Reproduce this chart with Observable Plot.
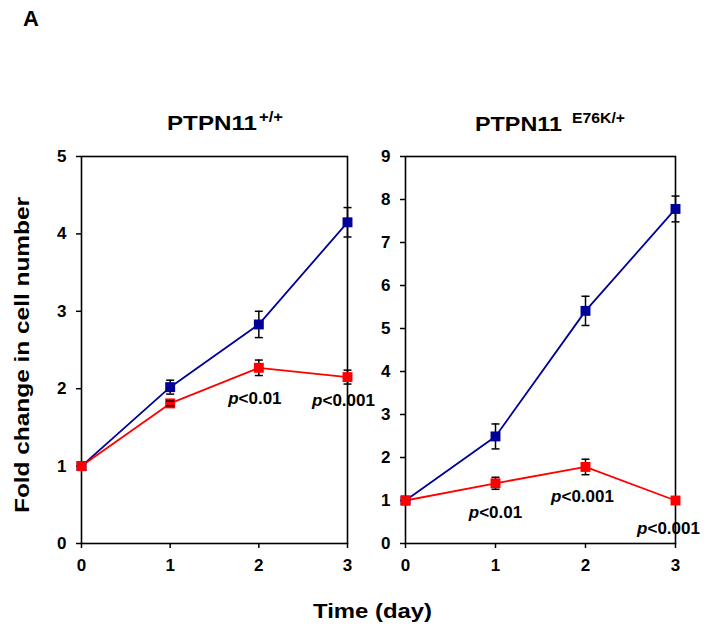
<!DOCTYPE html>
<html>
<head>
<meta charset="utf-8">
<script src="https://cdn.jsdelivr.net/npm/d3@7"></script>
<script src="https://cdn.jsdelivr.net/npm/@observablehq/plot@0.6"></script>
<style>
  html, body { margin: 0; padding: 0; background: #fff; }
  #wrap { position: relative; width: 709px; height: 633px; overflow: hidden; font-family: "Liberation Sans", Arial, sans-serif; }
  #wrap svg { position: absolute; top: 0; }
</style>
</head>
<body>
<div id="wrap"></div>
<script>
// ---- data ----
const days = [0, 1, 2, 3];
const xTicks = [0, 1, 2, 3];

const wtControl = [1, 2.02, 2.83, 4.15];
const wtControlErr = [0, 0.09, 0.17, 0.19];
const wtTreated = [1, 1.81, 2.27, 2.15];
const wtTreatedErr = [0, 0.03, 0.10, 0.09];
const wtYTicks = [0, 1, 2, 3, 4, 5];

const mutControl = [1, 2.49, 5.41, 7.78];
const mutControlErr = [0, 0.29, 0.34, 0.30];
const mutTreated = [1, 1.40, 1.78, 1.00];
const mutTreatedErr = [0, 0.14, 0.18, 0];
const mutYTicks = [0, 1, 2, 3, 4, 5, 6, 7, 8, 9];

const wtLabels = [
  {day: 2, value: 2.27, label: "p<0.01", dx: -4, dy: 36},
  {day: 3, value: 2.15, label: "p<0.001", dx: -4, dy: 29}
];
const mutLabels = [
  {day: 1, value: 1.40, label: "p<0.01", dx: 0, dy: 35},
  {day: 2, value: 1.78, label: "p<0.001", dx: -3, dy: 35},
  {day: 3, value: 1.00, label: "p<0.001", dx: -7, dy: 33}
];

const BLUE = "#000099", RED = "#ff0000";
const FONT = "'Liberation Sans', Arial, sans-serif";

function rows(values, errs, series) {
  return days.map((d, i) => ({day: d, value: values[i], err: errs[i], series}));
}

const capSymbol = {
  draw(context, size) {
    const w = Math.sqrt(size / Math.PI);
    context.moveTo(-w, 0);
    context.lineTo(w, 0);
  }
};

function panel({control, controlErr, treated, treatedErr, yMax, yTicks, labels, width, marginLeft, marginRight}) {
  const data = [...rows(control, controlErr, "control"), ...rows(treated, treatedErr, "treated")];
  const withErr = data.filter(d => d.err > 0);
  const color = s => s === "control" ? BLUE : RED;
  const svg = Plot.plot({
    width, height: 633,
    marginLeft, marginRight, marginTop: 156, marginBottom: 90,
    style: {fontFamily: FONT, fontSize: "17px", fontWeight: "bold", color: "black", background: "transparent", overflow: "visible"},
    x: {domain: [0, 3]},
    y: {domain: [0, yMax]},
    marks: [
      Plot.frame({stroke: "black", strokeWidth: 1.6}),
      Plot.axisY({ticks: yTicks, tickFormat: "d", tickSize: 5, tickPadding: 10, label: null, strokeWidth: 1.5, fontSize: 17}),
      Plot.axisX({ticks: xTicks, tickFormat: "d", tickSize: 5, tickPadding: 10, label: null, strokeWidth: 1.5, fontSize: 17}),
      Plot.line(data, {x: "day", y: "value", z: "series", stroke: d => color(d.series), strokeWidth: 1.8}),
      Plot.ruleX(withErr, {x: "day", y1: d => d.value - d.err, y2: d => d.value + d.err, stroke: "black", strokeWidth: 1.5}),
      Plot.dot(data, {x: "day", y: "value", symbol: "square", r: 5.6, fill: d => color(d.series), stroke: "none"}),
      Plot.dot(withErr, {x: "day", y: d => d.value + d.err, symbol: capSymbol, r: 4, stroke: "black", strokeWidth: 1.5, fill: "none"}),
      Plot.dot(withErr, {x: "day", y: d => d.value - d.err, symbol: capSymbol, r: 4, stroke: "black", strokeWidth: 1.5, fill: "none"}),
      Plot.text(labels, {x: "day", y: "value", text: "label", lineAnchor: "bottom", textAnchor: "middle", fontSize: 17, fontWeight: "bold", fill: "black"})
    ]
  });
  // apply per-label offsets and italic "p"
  const texts = Array.from(svg.querySelectorAll("text")).filter(t => t.textContent.startsWith("p<"));
  texts.forEach((t, i) => {
    const lab = labels[i];
    const rest = lab.label.slice(1).replace("<", "&lt;");
    t.innerHTML = `<tspan font-style="italic">p</tspan>${rest}`;
    const tr = t.getAttribute("transform") || "";
    t.setAttribute("transform", `${tr} translate(${lab.dx},${lab.dy})`);
  });
  return svg;
}

const wrap = document.getElementById("wrap");

const left = panel({control: wtControl, controlErr: wtControlErr, treated: wtTreated, treatedErr: wtTreatedErr,
  yMax: 5, yTicks: wtYTicks, labels: wtLabels, width: 360, marginLeft: 81, marginRight: 13});
left.style.left = "0px";
wrap.appendChild(left);

const right = panel({control: mutControl, controlErr: mutControlErr, treated: mutTreated, treatedErr: mutTreatedErr,
  yMax: 9, yTicks: mutYTicks, labels: mutLabels, width: 349, marginLeft: 45, marginRight: 34});
right.style.left = "360px";
wrap.appendChild(right);

// ---- overlay text: panel letter, titles, axis titles ----
const ov = d3.select(wrap).append("svg")
  .attr("width", 709).attr("height", 633)
  .style("left", "0px").style("pointer-events", "none")
  .attr("font-family", FONT).attr("font-weight", "bold");

ov.append("text").attr("x", 23).attr("y", 26).attr("font-size", 22).text("A");

function title(x, y, main, mainLen, sup, supX, supLen) {
  ov.append("text").attr("x", x).attr("y", y).attr("font-size", 21)
    .attr("textLength", mainLen).attr("lengthAdjust", "spacingAndGlyphs").text(main);
  ov.append("text").attr("x", supX).attr("y", y - 8).attr("font-size", 14)
    .attr("textLength", supLen).attr("lengthAdjust", "spacingAndGlyphs").text(sup);
}
title(167, 130, "PTPN11", 90, "+/+", 259, 24);
title(475, 131, "PTPN11", 87, "E76K/+", 572, 53);

ov.append("text")
  .attr("transform", "translate(29,355) rotate(-90)")
  .attr("text-anchor", "middle").attr("font-size", 20)
  .attr("textLength", 316).attr("lengthAdjust", "spacingAndGlyphs")
  .text("Fold change in cell number");

ov.append("text")
  .attr("x", 313).attr("y", 618).attr("font-size", 21)
  .attr("textLength", 119).attr("lengthAdjust", "spacingAndGlyphs")
  .text("Time (day)");
</script>
</body>
</html>
